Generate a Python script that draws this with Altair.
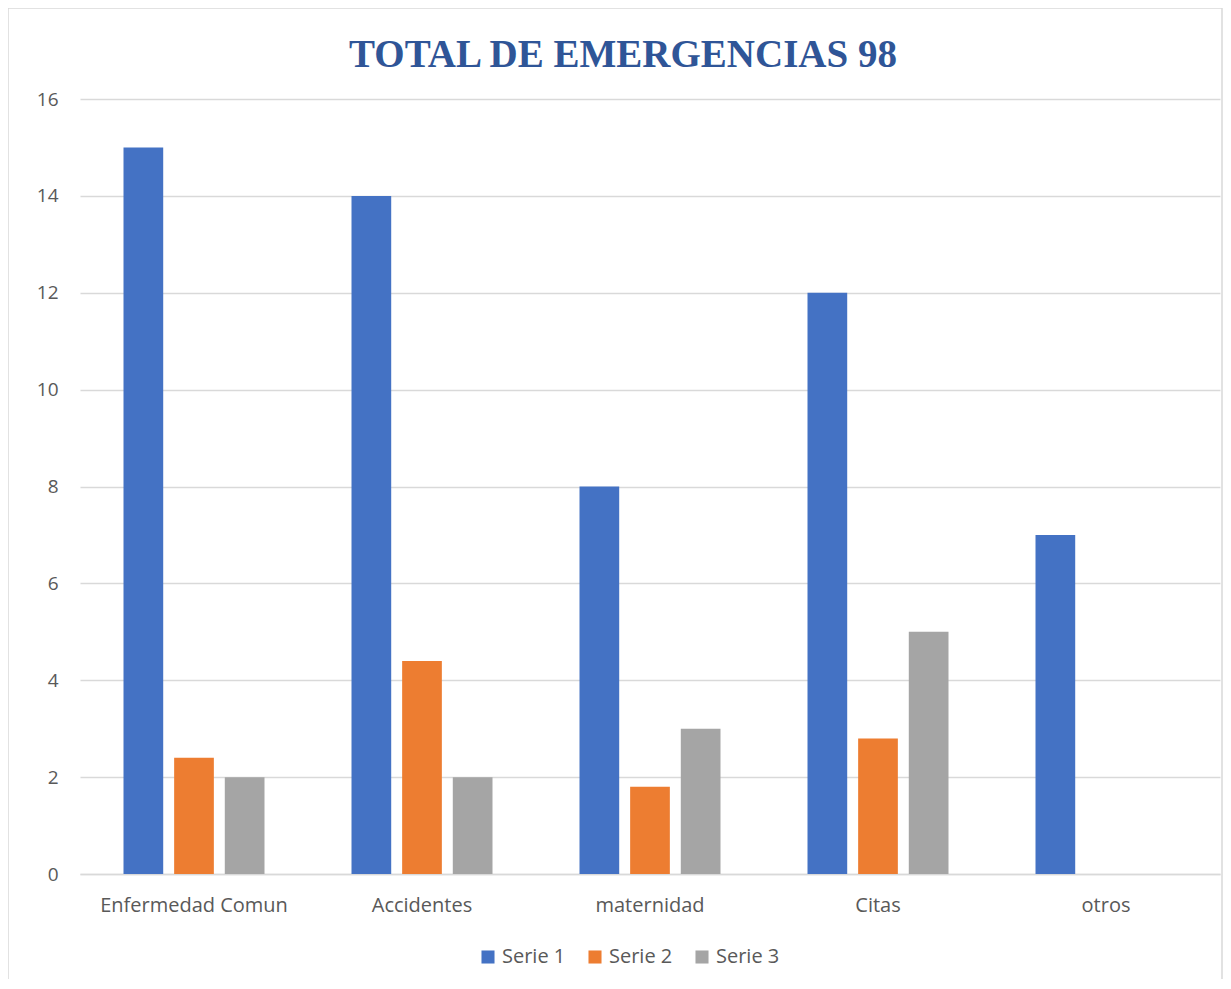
import altair as alt
import pandas as pd

categories = ["Enfermedad Comun", "Accidentes", "maternidad", "Citas", "otros"]
series_names = ["Serie 1", "Serie 2", "Serie 3"]
serie1 = [15, 14, 8, 12, 7]
serie2 = [2.4, 4.4, 1.8, 2.8, 0]
serie3 = [2, 2, 3, 5, 0]
colors = ["#4472C4", "#ED7D31", "#A5A5A5"]

rows = []
for name, vals in zip(series_names, [serie1, serie2, serie3]):
    for c, v in zip(categories, vals):
        rows.append({"Categoria": c, "Serie": name, "Valor": v})
df = pd.DataFrame(rows)

W, H = 1140, 775
font = "Open Sans"
gray = "#595959"

bars = alt.Chart(df).mark_bar().encode(
    x=alt.X("Categoria:N", sort=categories, title=None,
            scale=alt.Scale(paddingInner=0, paddingOuter=0),
            axis=alt.Axis(labelAngle=0, ticks=False, domainColor="#D9D9D9",
                          domainWidth=1.5, labelPadding=21, labelFontSize=20,
                          labelLimit=0, labelColor=gray, labelFont=font, grid=False)),
    xOffset=alt.XOffset("Serie:N", sort=series_names,
                        scale=alt.Scale(paddingInner=0.216, paddingOuter=0.859)),
    y=alt.Y("Valor:Q", title=None,
            scale=alt.Scale(domain=[0, 16], nice=False),
            axis=alt.Axis(values=[0, 2, 4, 6, 8, 10, 12, 14, 16], ticks=False,
                          domain=False, labelPadding=22, labelFontSize=19,
                          labelColor=gray, labelFont=font, gridColor="#D9D9D9",
                          gridWidth=1.5)),
    color=alt.Color("Serie:N", sort=series_names,
                    scale=alt.Scale(domain=series_names, range=colors),
                    legend=alt.Legend(title=None, orient="none", direction="horizontal",
                                      legendX=398, legendY=848, symbolType="square",
                                      symbolSize=170, symbolStrokeWidth=0,
                                      labelFontSize=20, labelColor=gray, labelFont=font,
                                      labelOffset=4, columnPadding=19)),
)

border = alt.Chart(pd.DataFrame({"a": [0]})).mark_rect(
    fill=None, stroke="#D9D9D9", strokeWidth=1.5
).encode(
    x=alt.value(-72), x2=alt.value(W + 2), y=alt.value(-91), y2=alt.value(H + 160)
)

chart = alt.layer(border, bars).properties(
    width=W, height=H,
    padding={"left": 72, "top": 91, "right": 3, "bottom": 105},
    autosize=alt.AutoSizeParams(type="none"),
    title=alt.TitleParams("TOTAL DE EMERGENCIAS 98", font="Liberation Serif",
                          fontSize=39, fontWeight="bold", color="#2F5597",
                          anchor="middle", dx=-27, offset=-68),
).configure_view(stroke=None)

chart.save("out.html", embed_options={"renderer": "svg", "actions": False})
